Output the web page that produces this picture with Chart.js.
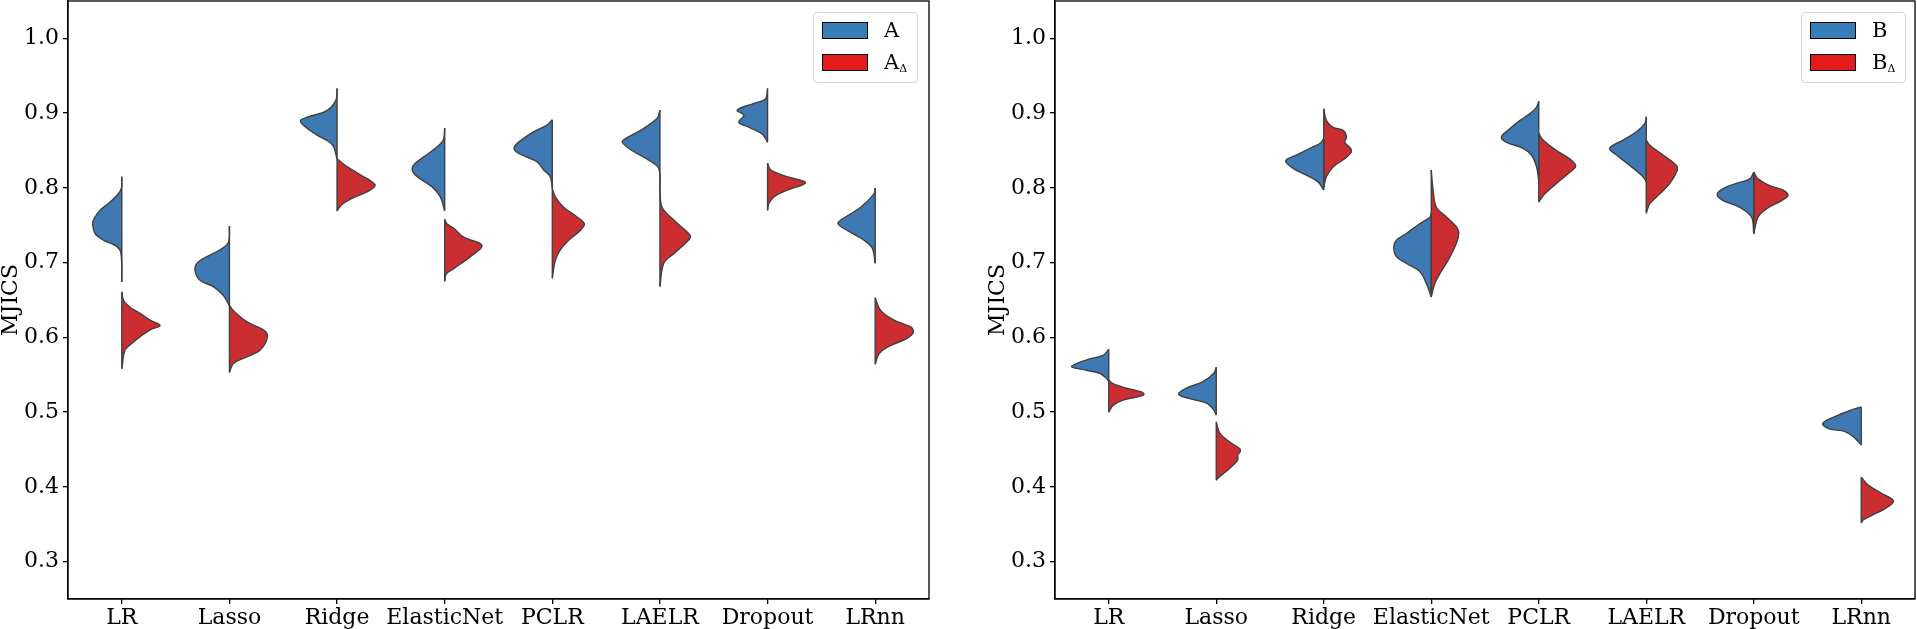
<!DOCTYPE html>
<html>
<head>
<meta charset="utf-8">
<script src="https://cdn.jsdelivr.net/npm/chart.js@4.4.1/dist/chart.umd.min.js"></script>
<style>
  body { margin: 0; background: #fff; width: 1917px; height: 629px; position: relative; overflow: hidden; font-family: 'DejaVu Serif', serif; }
  canvas { position: absolute; top: 0; }
  #c1 { left: 0; }
  #c2 { left: 960px; }
  .legend { position: absolute; top: 12px; width: 105px; height: 71px; box-sizing: border-box; border: 1px solid #d6d6d6; border-radius: 4px; background: rgba(255,255,255,0.8); }
  .sw { position: absolute; left: 8px; width: 46px; height: 17px; box-sizing: border-box; border: 1.5px solid #000; }
  .lbl { position: absolute; left: 70px; font-size: 21px; line-height: 21px; color: #000; }
  .lbl sub { font-size: 11px; vertical-align: -3px; }
</style>
</head>
<body>
<canvas id="c1" width="940" height="629"></canvas>
<canvas id="c2" width="957" height="629"></canvas>

<div class="legend" style="left:813px">
  <div class="sw" style="top:9px;background:#377eb8"></div><div class="lbl" style="top:7px">A</div>
  <div class="sw" style="top:41px;background:#e41a1c"></div><div class="lbl" style="top:39px">A<sub>Δ</sub></div>
</div>
<div class="legend" style="left:1801px">
  <div class="sw" style="top:9px;background:#377eb8"></div><div class="lbl" style="top:7px">B</div>
  <div class="sw" style="top:41px;background:#e41a1c"></div><div class="lbl" style="top:39px">B<sub>Δ</sub></div>
</div>

<script>
// categories and y ticks
const categories = ['LR', 'Lasso', 'Ridge', 'ElasticNet', 'PCLR', 'LAELR', 'Dropout', 'LRnn'];
const yTicks = [0.3, 0.4, 0.5, 0.6, 0.7, 0.8, 0.9, 1.0];

// half-violin outlines: [value, half width] from top to bottom, one list per category
const violinsA = [
  [[.815,0],[.797,.01],[.781,.109],[.770,.202],[.757,.264],[.750,.27],[.739,.248],[.730,.171],[.723,.062],[.714,.01],[.674,0]],
  [[.749,0],[.727,.01],[.717,.087],[.710,.18],[.701,.29],[.690,.32],[.676,.27],[.668,.15],[.656,.056],[.645,.01],[.642,0]],
  [[.933,0],[.917,.011],[.903,.10],[.895,.27],[.890,.34],[.882,.30],[.871,.19],[.858,.045],[.839,0]],
  [[.880,0],[.863,.017],[.847,.142],[.831,.285],[.823,.30],[.815,.256],[.801,.114],[.788,.04],[.769,0]],
  [[.891,0],[.884,.05],[.875,.174],[.859,.33],[.851,.353],[.844,.282],[.835,.143],[.824,.08],[.815,.019],[.799,0]],
  [[.904,0],[.893,.026],[.877,.18],[.866,.32],[.861,.35],[.850,.26],[.837,.104],[.826,.011],[.797,0]],
  [[.933,0],[.919,.019],[.913,.127],[.904,.282],[.897,.22],[.888,.267],[.881,.17],[.872,.05],[.861,0]],
  [[.800,0],[.792,.011],[.774,.135],[.757,.32],[.752,.346],[.743,.26],[.730,.104],[.719,.026],[.699,0]],
];
const violinsADelta = [
  [[.661,0],[.650,.015],[.640,.08],[.632,.17],[.623,.263],[.616,.356],[.610,.263],[.601,.17],[.592,.093],[.583,.03],[.558,0]],
  [[.643,0],[.636,.035],[.621,.16],[.610,.316],[.601,.353],[.583,.286],[.574,.16],[.565,.037],[.553,0]],
  [[.839,0],[.831,.068],[.818,.21],[.804,.353],[.796,.296],[.785,.125],[.777,.04],[.769,0]],
  [[.758,0],[.752,.02],[.746,.084],[.734,.177],[.723,.347],[.708,.239],[.692,.084],[.685,.015],[.675,0]],
  [[.799,0],[.788,.028],[.774,.105],[.761,.23],[.752,.298],[.743,.26],[.730,.152],[.717,.074],[.703,.028],[.679,0]],
  [[.797,0],[.774,.02],[.757,.128],[.741,.253],[.734,.284],[.726,.237],[.712,.128],[.699,.035],[.668,0]],
  [[.833,0],[.824,.028],[.815,.183],[.807,.353],[.797,.183],[.788,.059],[.779,.012],[.770,0]],
  [[.653,0],[.636,.05],[.623,.175],[.614,.33],[.607,.355],[.599,.3],[.587,.113],[.578,.035],[.564,0]],
];
const violinsB = [
  [[.584,0],[.576,.053],[.570,.207],[.561,.347],[.556,.207],[.552,.084],[.545,.02],[.541,0]],
  [[.560,0],[.552,.023],[.541,.12],[.532,.278],[.524,.35],[.518,.247],[.512,.091],[.503,.023],[.496,0]],
  [[.866,0],[.860,.03],[.855,.1],[.846,.223],[.839,.332],[.835,.353],[.826,.285],[.817,.161],[.808,.053],[.797,0]],
  [[.766,0],[.761,.01],[.752,.107],[.739,.231],[.730,.324],[.721,.349],[.708,.324],[.699,.231],[.688,.107],[.672,.045],[.654,0]],
  [[.916,0],[.908,.02],[.899,.084],[.890,.177],[.879,.27],[.868,.347],[.861,.3],[.853,.146],[.844,.068],[.828,.02],[.810,0]],
  [[.895,0],[.886,.014],[.875,.091],[.864,.216],[.853,.34],[.844,.277],[.830,.153],[.815,.03],[.808,0]],
  [[.821,0],[.812,.037],[.806,.161],[.799,.285],[.791,.341],[.783,.285],[.774,.13],[.761,.021],[.739,0]],
  [[.507,0],[.503,.088],[.496,.212],[.485,.358],[.478,.305],[.474,.151],[.467,.073],[.458,.011],[.456,0]],
];
const violinsBDelta = [
  [[.543,0],[.538,.04],[.532,.165],[.527,.304],[.524,.328],[.521,.288],[.516,.133],[.509,.04],[.500,0]],
  [[.487,0],[.472,.033],[.460,.126],[.451,.219],[.447,.223],[.443,.2],[.436,.2],[.425,.126],[.414,.033],[.409,0]],
  [[.906,0],[.890,.025],[.881,.087],[.877,.18],[.868,.211],[.861,.195],[.853,.248],[.848,.257],[.839,.195],[.828,.087],[.815,.025],[.801,0]],
  [[.824,0],[.797,.017],[.774,.048],[.761,.141],[.748,.234],[.739,.256],[.726,.234],[.703,.156],[.685,.079],[.672,.033],[.654,0]],
  [[.873,0],[.864,.04],[.850,.165],[.839,.288],[.829,.344],[.819,.273],[.806,.165],[.792,.056],[.781,0]],
  [[.864,0],[.857,.033],[.844,.156],[.830,.281],[.824,.29],[.806,.219],[.792,.126],[.779,.033],[.766,0]],
  [[.821,0],[.812,.04],[.803,.149],[.797,.273],[.790,.319],[.783,.258],[.772,.118],[.761,.04],[.739,0]],
  [[.413,0],[.402,.068],[.391,.193],[.381,.3],[.371,.223],[.362,.1],[.356,.021],[.352,0]],
];

const blueFill = '#3e79b3';
const redFill = '#cc2d30';
const edge = '#404040';

Chart.defaults.font.family = "'DejaVu Serif', serif";
Chart.defaults.font.size = 22;
Chart.defaults.color = '#000';

// one half of a split violin, filled back to the category centre
const halfDataset = (knots, i, side, color) => ({
  data: knots.map(([v, w]) => ({ x: i + side * w, y: v })),
  backgroundColor: color,
  borderColor: edge,
  borderWidth: 1.4,
  fill: { value: i },
  tension: 0.35,
  pointRadius: 0,
});

// straight centre edge of a half
const centreDataset = (knots, i) => ({
  data: [{ x: i, y: knots[0][0] }, { x: i, y: knots[knots.length - 1][0] }],
  borderColor: edge,
  borderWidth: 1.4,
  fill: false,
  tension: 0,
  pointRadius: 0,
});

// black frame round the plot area
const framePlugin = {
  id: 'frame',
  afterDraw(chart) {
    const { ctx, chartArea: a } = chart;
    ctx.save();
    ctx.strokeStyle = '#000';
    ctx.lineWidth = 1.3;
    ctx.strokeRect(a.left, a.top, a.right - a.left, a.bottom - a.top);
    ctx.restore();
  },
};

const makeChart = (id, left, right, yWidth, titlePad, padRight) => {
  const centres = [];
  const halves = [];
  categories.forEach((c, i) => {
    centres.push(centreDataset(left[i], i), centreDataset(right[i], i));
    halves.push(halfDataset(left[i], i, -1, blueFill), halfDataset(right[i], i, 1, redFill));
  });
  const axisGrid = { display: true, drawOnChartArea: false, drawTicks: true, tickLength: 5, color: '#000', lineWidth: 1.3 };
  return new Chart(id, {
    type: 'line',
    data: { datasets: centres.concat(halves) },
    plugins: [framePlugin],
    options: {
      indexAxis: 'y',
      responsive: false,
      animation: false,
      layout: { padding: { left: 0, right: padRight, top: 1, bottom: 0 } },
      plugins: { legend: { display: false }, tooltip: { enabled: false } },
      scales: {
        x: {
          type: 'linear', min: -0.5, max: 7.5,
          afterBuildTicks: (s) => { s.ticks = categories.map((c, i) => ({ value: i })); },
          afterFit: (s) => { s.height = 30; s.paddingLeft = 0; s.paddingRight = 0; },
          ticks: { callback: (v) => categories[v], padding: 1, maxRotation: 0, autoSkip: false },
          grid: axisGrid,
          border: { display: true, color: '#000', width: 1.3 },
        },
        y: {
          type: 'linear', min: 0.25, max: 1.05,
          afterBuildTicks: (s) => { s.ticks = yTicks.map((v) => ({ value: v })); },
          afterFit: (s) => { s.width = yWidth; s.paddingTop = 0; s.paddingBottom = 0; },
          ticks: { callback: (v) => v.toFixed(1), padding: 4 },
          grid: axisGrid,
          border: { display: true, color: '#000', width: 1.3 },
          title: { display: true, text: 'MJICS', font: { size: 22, lineHeight: 1 }, padding: { top: titlePad, bottom: 0 } },
        },
      },
    },
  });
};

const chartA = makeChart('c1', violinsA, violinsADelta, 68, 0, 11);
const chartB = makeChart('c2', violinsB, violinsBDelta, 95, 27, 2);
</script>
</body>
</html>
